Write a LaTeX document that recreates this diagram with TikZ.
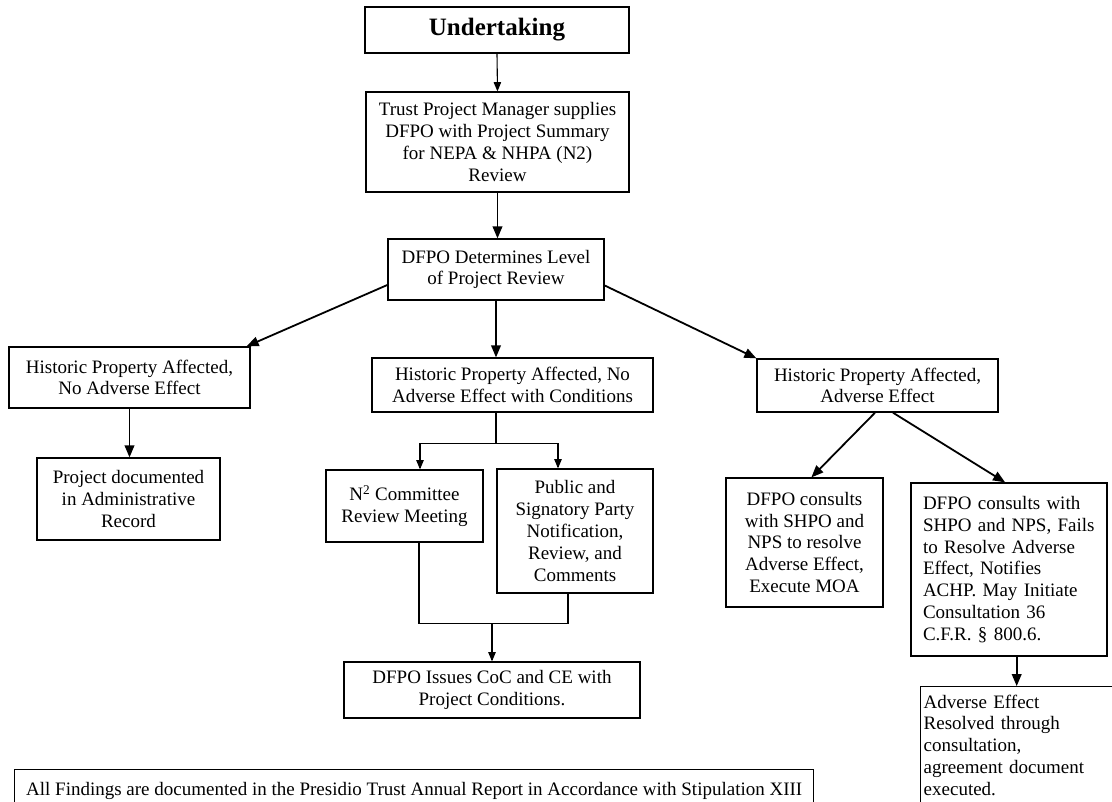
\documentclass[tikz,border=0pt]{standalone}
\usepackage{fontspec}
\setmainfont{Liberation Serif}
\usetikzlibrary{arrows,positioning}

\begin{document}
\begin{tikzpicture}[x=1pt, y=-1pt,
  box/.style={draw, line width=1.4pt, align=center, inner sep=0pt,
    font=\fontsize{19}{21.8}\selectfont},
  leftbox/.style={box, align=left, inner xsep=12pt},
  arr/.style={line width=1.8pt, arrows={-triangle 45}},
  thinarr/.style={line width=1.1pt, arrows={-triangle 45}},
  link/.style={line width=1.3pt}]
\useasboundingbox (0,0) rectangle (1112,802);

\node[box, line width=1.8pt, minimum width=264pt, minimum height=46pt,
  font=\fontsize{25}{30}\selectfont\bfseries] (undertaking) at (497,30) {Undertaking};
\node[box, minimum width=263pt, minimum height=100pt] (summary) at (497.5,142)
  {Trust Project Manager supplies\\DFPO with Project Summary\\for NEPA \& NHPA (N2)\\Review};
\node[box, minimum width=216pt, minimum height=61pt] (level) at (496,269.5)
  {DFPO Determines Level\\of Project Review};

\node[box, minimum width=241pt, minimum height=61pt] (noadverse) at (129.5,377.5)
  {Historic Property Affected,\\No Adverse Effect};
\node[box, minimum width=183pt, minimum height=82pt] (record) at (128.5,499)
  {Project documented\\in Administrative\\Record};

\node[box, minimum width=281pt, minimum height=54pt] (conditions) at (512.5,385)
  {Historic Property Affected, No\\Adverse Effect with Conditions};
\node[box, minimum width=157pt, minimum height=72pt] (committee) at (404.5,506)
  {N\textsuperscript{2} Committee\\Review Meeting};
\node[box, minimum width=156pt, minimum height=124pt] (public) at (575,531)
  {Public and\\Signatory Party\\Notification,\\Review, and\\Comments};
\node[box, minimum width=296pt, minimum height=56pt] (issues) at (492,690)
  {DFPO Issues CoC and CE with\\Project Conditions.};

\node[box, minimum width=241pt, minimum height=53pt] (adverse) at (877.5,385.5)
  {Historic Property Affected,\\Adverse Effect};
\node[box, minimum width=157pt, minimum height=129pt] (moa) at (804.5,542.5)
  {DFPO consults\\with SHPO and\\NPS to resolve\\Adverse Effect,\\Execute MOA};
\node[leftbox, text width=172pt, minimum height=173pt] (fails) at (1009,569.5)
  {DFPO consults with\\SHPO and NPS, Fails\\to Resolve Adverse\\Effect, Notifies\\ACHP. May Initiate\\Consultation 36\\C.F.R. \S\ 800.6.};
\node[leftbox, anchor=north west, inner xsep=3pt, inner ysep=8pt, text width=186pt]
  (resolved) at (920,686)
  {Adverse Effect\\Resolved through\\consultation,\\agreement document\\executed.};

\node[box, anchor=north west, minimum width=799pt, minimum height=42pt] (findings) at (14,769)
  {All Findings are documented in the Presidio Trust Annual Report in Accordance with Stipulation XIII};

\draw[thinarr] (undertaking.south) -- (summary.north);
\draw[arr] (summary.south) -- (summary.south |- level.north);
\draw[arr] ([yshift=-15.5pt]level.west) -- ([xshift=-4pt]noadverse.north east);
\draw[arr] (level.south) -- (level.south |- conditions.north);
\draw[arr] ([yshift=-16pt]level.east) -- (adverse.north west);
\draw[arr] (noadverse.south) -- (noadverse.south |- record.north);

\draw[link] (level.south |- conditions.south) -- ++(0,31) coordinate (fork);
\draw[thinarr] (fork) -| ([xshift=15.5pt]committee.north);
\draw[thinarr] (fork) -| ([xshift=-17pt]public.north);
\coordinate (merge) at ([yshift=-30pt]public.south -| issues.north);
\draw[link] ([xshift=14.5pt]committee.south) |- (merge) -| ([xshift=-7pt]public.south);
\draw[thinarr] (merge) -- (issues.north);

\draw[arr] ([xshift=-2.5pt]adverse.south) -- ([xshift=7pt]moa.north);
\draw[arr] ([xshift=15.5pt]adverse.south) -- ([xshift=-4pt]fails.north);
\draw[arr] (fails.south -| resolved.north) -- (resolved.north);

\end{tikzpicture}
\end{document}
